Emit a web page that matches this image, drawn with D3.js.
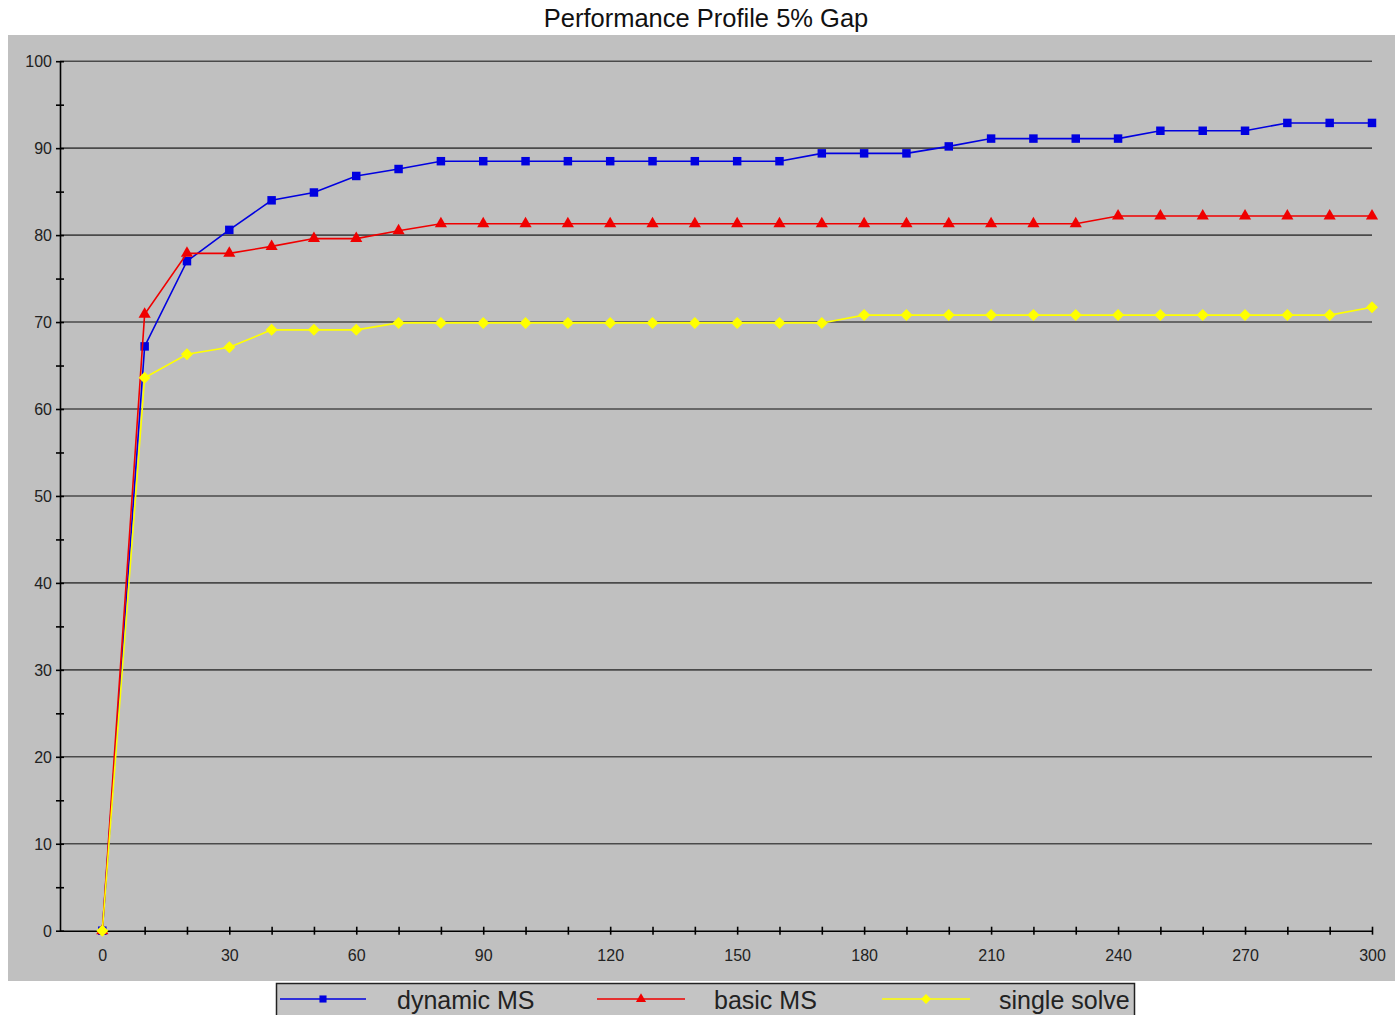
<!DOCTYPE html>
<html>
<head>
<meta charset="utf-8">
<script src="https://cdn.jsdelivr.net/npm/d3@7"></script>
<style>
  html, body { margin: 0; padding: 0; background: #ffffff; }
  svg { display: block; font-family: "Liberation Sans", Arial, sans-serif; }
</style>
</head>
<body>
<svg id="chart" width="1395" height="1015"></svg>
<script>
// Time limit (x) and percentage of instances solved within the gap (y)
const times = [0, 10, 20, 30, 40, 50, 60, 70, 80, 90, 100, 110, 120, 130, 140, 150,
               160, 170, 180, 190, 200, 210, 220, 230, 240, 250, 260, 270, 280, 290, 300];

const dynamicMS = [0, 67.2, 77.0, 80.6, 84.0, 84.9, 86.8, 87.6, 88.5, 88.5, 88.5, 88.5, 88.5, 88.5, 88.5, 88.5,
                   88.5, 89.4, 89.4, 89.4, 90.2, 91.1, 91.1, 91.1, 91.1, 92.0, 92.0, 92.0, 92.9, 92.9, 92.9];

const basicMS = [0, 70.9, 77.9, 77.9, 78.7, 79.6, 79.6, 80.5, 81.3, 81.3, 81.3, 81.3, 81.3, 81.3, 81.3, 81.3,
                 81.3, 81.3, 81.3, 81.3, 81.3, 81.3, 81.3, 81.3, 82.2, 82.2, 82.2, 82.2, 82.2, 82.2, 82.2];

const singleSolve = [0, 63.6, 66.3, 67.1, 69.1, 69.1, 69.1, 69.9, 69.9, 69.9, 69.9, 69.9, 69.9, 69.9, 69.9, 69.9,
                     69.9, 69.9, 70.8, 70.8, 70.8, 70.8, 70.8, 70.8, 70.8, 70.8, 70.8, 70.8, 70.8, 70.8, 71.7];

const seriesNames = ["dynamic MS", "basic MS", "single solve"];
const xTickLabels = [0, 30, 60, 90, 120, 150, 180, 210, 240, 270, 300];
const yTickLabels = [0, 10, 20, 30, 40, 50, 60, 70, 80, 90, 100];
const chartTitle = "Performance Profile 5% Gap";

// Marker shapes: square, triangle, and a square turned 45 degrees for the diamond
const series = [
  { name: seriesNames[0], values: dynamicMS, color: "#0000e0", symbol: d3.symbolSquare, size: 72, rotate: 0 },
  { name: seriesNames[1], values: basicMS, color: "#f00000", symbol: d3.symbolTriangle, size: 64, rotate: 0 },
  { name: seriesNames[2], values: singleSolve, color: "#ffff00", symbol: d3.symbolSquare, size: 72, rotate: 45 }
];

const svg = d3.select("#chart");

// Gray chart panel
svg.append("rect")
  .attr("x", 8).attr("y", 35)
  .attr("width", 1395 - 8).attr("height", 981 - 35)
  .attr("fill", "#c0c0c0");

// Title
svg.append("text")
  .attr("x", 706).attr("y", 27)
  .attr("text-anchor", "middle")
  .attr("font-size", 25.5)
  .attr("fill", "#111")
  .text(chartTitle);

const x = d3.scaleLinear().domain([-10, 300]).range([60, 1372]);
const y = d3.scaleLinear().domain([0, 100]).range([930.7, 61.2]);

// Horizontal gridlines
svg.append("g")
  .selectAll("line")
  .data(yTickLabels.filter(v => v > 0))
  .join("line")
  .attr("x1", x(-10)).attr("x2", x(300))
  .attr("y1", d => y(d)).attr("y2", d => y(d))
  .attr("stroke", "#4a4a4a")
  .attr("stroke-width", 1.6);

// Y axis: major ticks every 10 with labels, minor ticks every 5
const yAxis = d3.axisLeft(y)
  .tickValues(d3.range(0, 101, 5))
  .tickSize(0)
  .tickFormat(d => yTickLabels.includes(d) ? d : "");
const gy = svg.append("g").attr("transform", `translate(${x(-10)},0)`).call(yAxis);
gy.select(".domain").attr("stroke", "#000").attr("stroke-width", 1.6);
gy.selectAll(".tick line")
  .attr("x1", -4).attr("x2", 4)
  .attr("stroke", "#000").attr("stroke-width", 1.6);
gy.selectAll(".tick text")
  .attr("x", -8).attr("dy", "0.35em")
  .attr("font-size", 16)
  .attr("font-family", "Liberation Sans, Arial, sans-serif")
  .attr("fill", "#222");

// X axis: ticks every 10, labels every 30
const xAxis = d3.axisBottom(x)
  .tickValues(d3.range(0, 301, 10))
  .tickSize(0)
  .tickFormat(d => xTickLabels.includes(d) ? d : "");
const gx = svg.append("g").attr("transform", `translate(0,${y(0)})`).call(xAxis);
gx.select(".domain").attr("stroke", "#000").attr("stroke-width", 1.6);
gx.selectAll(".tick line")
  .attr("y1", -4).attr("y2", 4)
  .attr("stroke", "#000").attr("stroke-width", 1.6);
gx.selectAll(".tick text")
  .attr("y", 30)
  .attr("dy", "0")
  .attr("font-size", 16)
  .attr("font-family", "Liberation Sans, Arial, sans-serif")
  .attr("fill", "#222");

// Series lines and markers
const line = d3.line()
  .x((d, i) => x(times[i]))
  .y(d => y(d));

series.forEach(s => {
  const g = svg.append("g");
  g.append("path")
    .datum(s.values)
    .attr("d", line)
    .attr("fill", "none")
    .attr("stroke", s.color)
    .attr("stroke-width", 1.6);
  g.selectAll("path.marker")
    .data(s.values)
    .join("path")
    .attr("class", "marker")
    .attr("transform", (d, i) => `translate(${x(times[i])},${y(d)}) rotate(${s.rotate})`)
    .attr("d", d3.symbol().type(s.symbol).size(s.size))
    .attr("fill", s.color);
});

// Legend
const legend = svg.append("g");
legend.append("rect")
  .attr("x", 276.5).attr("y", 983.5)
  .attr("width", 858).attr("height", 40)
  .attr("fill", "#c4c4c4")
  .attr("stroke", "#222")
  .attr("stroke-width", 1.5);

const legendItems = [
  { x0: 280, x1: 366, tx: 397 },
  { x0: 597, x1: 685, tx: 714 },
  { x0: 882, x1: 970, tx: 999 }
];
series.forEach((s, i) => {
  const it = legendItems[i];
  const ly = 999;
  legend.append("line")
    .attr("x1", it.x0).attr("x2", it.x1)
    .attr("y1", ly).attr("y2", ly)
    .attr("stroke", s.color).attr("stroke-width", 1.6);
  legend.append("path")
    .attr("transform", `translate(${(it.x0 + it.x1) / 2},${ly}) rotate(${s.rotate})`)
    .attr("d", d3.symbol().type(s.symbol).size(s.size * 0.7))
    .attr("fill", s.color);
  legend.append("text")
    .attr("x", it.tx).attr("y", 1009)
    .attr("font-size", 25)
    .attr("fill", "#222")
    .text(s.name);
});
</script>
</body>
</html>
